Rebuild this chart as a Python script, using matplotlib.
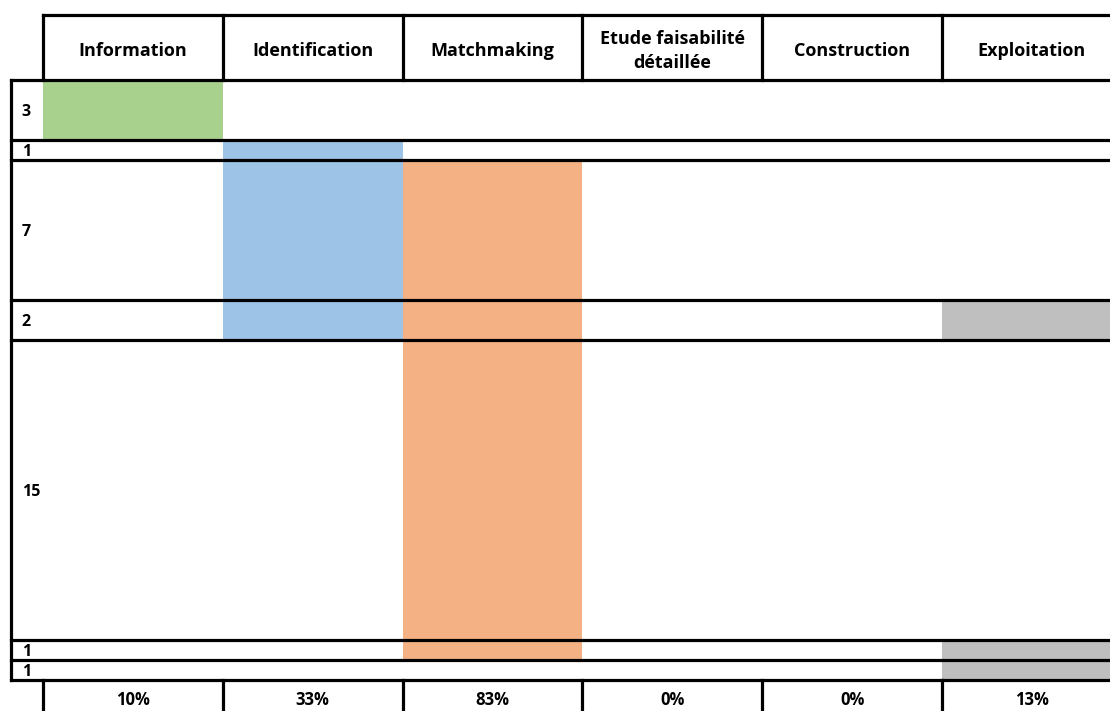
import matplotlib
matplotlib.use("Agg")
import matplotlib.pyplot as plt
import numpy as np

# ---- data ----
stages = ["Information", "Identification", "Matchmaking",
          "Etude faisabilité\ndétaillée", "Construction", "Exploitation"]
row_counts = [3, 1, 7, 2, 15, 1, 1]
row_labels = ["3", "1", "7", "2", "15", "1", "1"]
# rows (index in row_counts) covered by each stage
stage_rows = [[0], [1, 2, 3], [2, 3, 4, 5], [], [], [3, 5, 6]]
stage_colors = ["#A9D18E", "#9DC3E6", "#F4B183", "#FFFFFF", "#FFFFFF", "#BFBFBF"]
footer_labels = ["10%", "33%", "83%", "0%", "0%", "13%"]

plt.rcParams['font.family'] = ['Open Sans', 'DejaVu Sans']

fig = plt.figure(figsize=(11.10, 7.11), dpi=100)
ax = fig.add_axes([0, 0, 1, 1])
ax.set_xlim(-0.239, 5.934)
ax.set_ylim(31.55, -4)
ax.axis('off')

lw = 2.3
edges = np.concatenate([[0], np.cumsum(row_counts)])
total = edges[-1]
label_left = -0.178
header_top = -3.25
right = 6.2

# colored blocks
for j, rows in enumerate(stage_rows):
    for r in rows:
        ax.bar(j + 0.5, row_counts[r], width=1.0, bottom=edges[r],
               color=stage_colors[j], linewidth=0, zorder=1)

# horizontal lines of body
for e in edges:
    ax.plot([label_left, right], [e, e], color='black', lw=lw, zorder=3,
            solid_capstyle='projecting')
# left border of body
ax.plot([label_left, label_left], [0, total], color='black', lw=lw, zorder=3)

# header
ax.plot([0, right], [header_top, header_top], color='black', lw=lw, zorder=3,
        solid_capstyle='projecting')
for j in range(len(stages) + 1):
    ax.plot([j, j], [header_top, 0], color='black', lw=lw, zorder=3)
    ax.plot([j, j], [total, 33], color='black', lw=lw, zorder=3)

for j, s in enumerate(stages):
    ax.text(j + 0.5, -1.45, s, ha='center', va='center',
            fontsize=13, fontweight='bold', linespacing=1.45)
    ax.text(j + 0.5, total + 1.0, footer_labels[j], ha='center', va='center',
            fontsize=12, fontweight='bold')

for r, lab in enumerate(row_labels):
    yc = (edges[r] + edges[r + 1]) / 2 + 0.08
    ax.text(label_left + 0.06, yc, lab, ha='left', va='center',
            fontsize=11.5, fontweight='bold')

fig.savefig("out.png", dpi=100)
